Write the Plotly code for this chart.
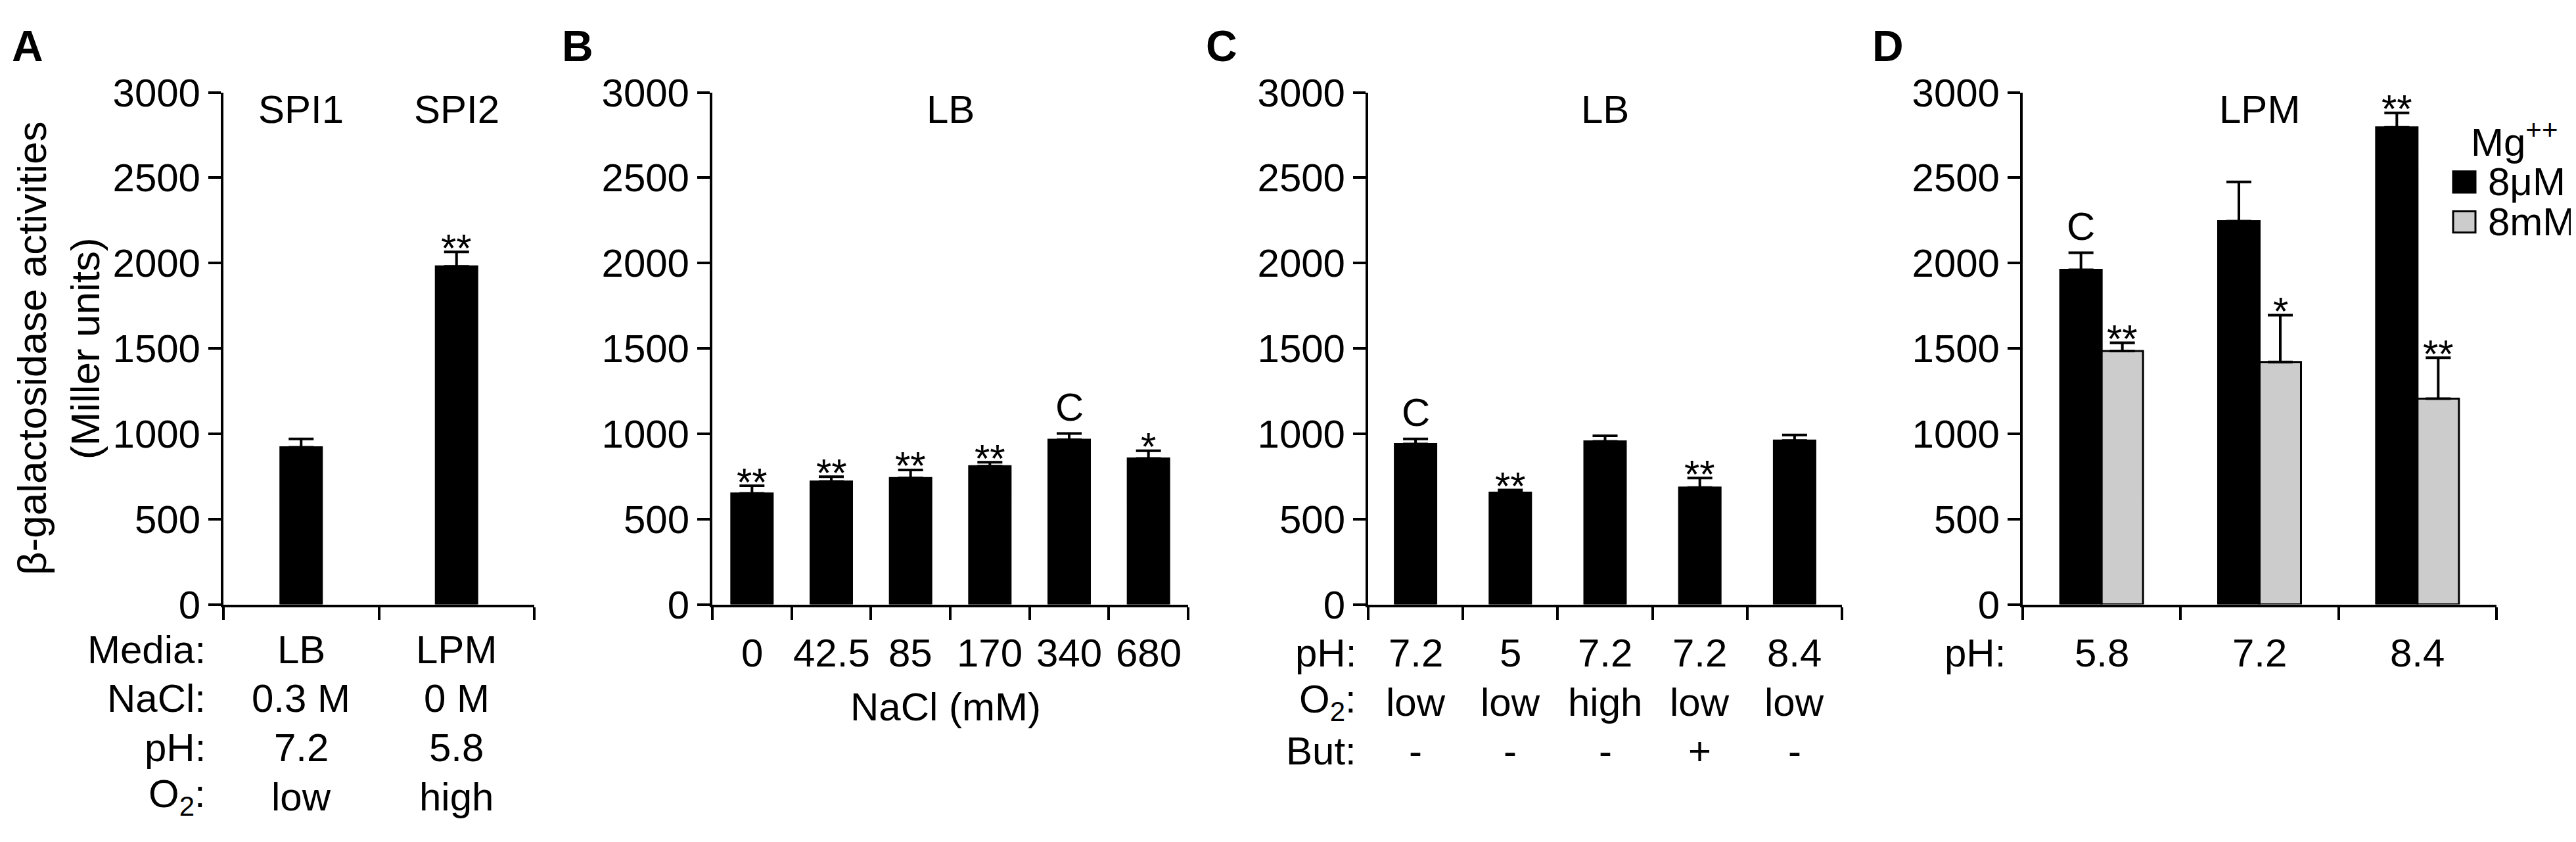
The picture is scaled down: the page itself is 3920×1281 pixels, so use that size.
import plotly.graph_objects as go

W, H = 3920, 1281
FONT = "Liberation Sans, Arial, sans-serif"
FS = 60

# ---------------- data ----------------
# Panel A
a_vals = [920, 1980]
a_err = [50, 85]
a_sig = ["", "**"]
a_top = ["SPI1", "SPI2"]
a_row_names = ["Media:", "NaCl:", "pH:", "O<sub>2</sub>:"]
a_media = ["LB", "LPM"]
a_nacl = ["0.3 M", "0 M"]
a_ph = ["7.2", "5.8"]
a_o2 = ["low", "high"]

# Panel B
b_labels = ["0", "42.5", "85", "170", "340", "680"]
b_vals = [650, 720, 740, 810, 965, 855]
b_err = [45, 28, 48, 23, 36, 45]
b_sig = ["**", "**", "**", "**", "C", "*"]
b_title = "NaCl (mM)"
b_top = "LB"

# Panel C
c_vals = [940, 655, 955, 685, 960]
c_err = [30, 15, 33, 55, 33]
c_sig = ["C", "**", "", "**", ""]
c_row_names = ["pH:", "O<sub>2</sub>:", "But:"]
c_ph = ["7.2", "5", "7.2", "7.2", "8.4"]
c_o2 = ["low", "low", "high", "low", "low"]
c_but = ["-", "-", "-", "+", "-"]
c_top = "LB"

# Panel D
d_ph = ["5.8", "7.2", "8.4"]
d_low_vals = [1960, 2245, 2795]
d_low_err = [100, 230, 85]
d_low_sig = ["C", "", "**"]
d_high_vals = [1485, 1420, 1205]
d_high_err = [48, 275, 240]
d_high_sig = ["**", "*", "**"]
d_series = ["8μM", "8mM"]
d_legend_title = "Mg<sup>++</sup>"
d_top = "LPM"

y_ticks = [0, 500, 1000, 1500, 2000, 2500, 3000]
y_title = ["β-galactosidase activities", "(Miller units)"]
panel_letters = ["A", "B", "C", "D"]

# ---------------- layout helpers ----------------
def fx(p):
    return p / W

def fy(p):
    return 1 - p / H

BLACK = "#000000"
GREY = "#cccccc"
y_dom = [fy(927), fy(105)]
x_doms = [(332, 805), (1076, 1800), (2074, 2795), (3070, 3791)]
ncat = [len(a_vals), len(b_vals), len(c_vals), len(d_ph)]
bar_px = 63

fig = go.Figure()

def err(arr):
    return dict(type="data", symmetric=False, array=arr, arrayminus=[0] * len(arr),
                color=BLACK, thickness=4, width=19)

def cat_w(k):
    return bar_px / ((x_doms[k][1] - x_doms[k][0]) / ncat[k])

# Panel A
fig.add_trace(go.Bar(x=list(range(len(a_vals))), y=a_vals, width=cat_w(0),
                     marker=dict(color=BLACK, line=dict(color=BLACK, width=3)),
                     error_y=err(a_err), xaxis="x", yaxis="y", showlegend=False))
# Panel B
fig.add_trace(go.Bar(x=list(range(len(b_vals))), y=b_vals, width=cat_w(1),
                     marker=dict(color=BLACK, line=dict(color=BLACK, width=3)),
                     error_y=err(b_err), xaxis="x2", yaxis="y2", showlegend=False))
# Panel C
fig.add_trace(go.Bar(x=list(range(len(c_vals))), y=c_vals, width=cat_w(2),
                     marker=dict(color=BLACK, line=dict(color=BLACK, width=3)),
                     error_y=err(c_err), xaxis="x3", yaxis="y3", showlegend=False))
# Panel D
wd = cat_w(3)
fig.add_trace(go.Bar(x=list(range(len(d_ph))), y=d_low_vals, width=wd, offset=-wd,
                     name=d_series[0],
                     marker=dict(color=BLACK, line=dict(color=BLACK, width=3)),
                     error_y=err(d_low_err), xaxis="x4", yaxis="y4", showlegend=False))
fig.add_trace(go.Bar(x=list(range(len(d_ph))), y=d_high_vals, width=wd, offset=0,
                     name=d_series[1],
                     marker=dict(color=GREY, line=dict(color=BLACK, width=3)),
                     error_y=err(d_high_err), xaxis="x4", yaxis="y4", showlegend=False))

layout = dict(
    width=W, height=H, margin=dict(l=0, r=0, t=0, b=0),
    paper_bgcolor="white", plot_bgcolor="white",
    barmode="overlay", showlegend=False,
    font=dict(family=FONT, size=FS, color=BLACK),
)
for k in range(4):
    sfx = "" if k == 0 else str(k + 1)
    n = ncat[k]
    layout["xaxis" + sfx] = dict(
        domain=[fx(x_doms[k][0]), fx(x_doms[k][1])], range=[-0.5, n - 0.5],
        anchor="y" + sfx, showline=True, linecolor=BLACK, linewidth=4,
        ticks="outside", ticklen=19, tickwidth=4, tickcolor=BLACK,
        tickvals=[i - 0.5 for i in range(n + 1)], showticklabels=False,
        showgrid=False, zeroline=False, fixedrange=True)
    layout["yaxis" + sfx] = dict(
        domain=y_dom, range=[0, 3000], anchor="x" + sfx,
        showline=True, linecolor=BLACK, linewidth=4,
        ticks="outside", ticklen=19, tickwidth=4, tickcolor=BLACK,
        tickvals=y_ticks, ticktext=[str(v) for v in y_ticks],
        tickfont=dict(family=FONT, size=FS, color=BLACK),
        showgrid=False, zeroline=False, fixedrange=True)
fig.update_layout(**layout)

ann = []

def txt(text, x, y, xref="paper", yref="paper", xanchor="center", yanchor="middle",
        size=FS, yshift=0, family=FONT, textangle=0):
    ann.append(dict(text=text, x=x, y=y, xref=xref, yref=yref, xanchor=xanchor,
                    yanchor=yanchor, showarrow=False, yshift=yshift, textangle=textangle,
                    font=dict(family=family, size=size, color=BLACK)))

def sig(label, x, top, xref, yref):
    if not label:
        return
    shift = 40 if label == "C" else 6
    txt(label, x, top, xref=xref, yref=yref, yshift=shift)

# panel letters
for letter, px in zip(panel_letters, [34, 871, 1851, 2865]):
    txt("<b>" + letter + "</b>", fx(px), fy(31), size=66)

# y title (panel A)
txt(y_title[0], fx(40), 0.5, yref="y domain", textangle=-90, size=62)
txt(y_title[1], fx(121), 0.5, yref="y domain", textangle=-90, size=62)

# Panel A texts
for i in range(len(a_vals)):
    sig(a_sig[i], i, a_vals[i] + a_err[i], "x", "y")
    txt(a_top[i], i, fy(132), xref="x")
rows_y = [1000, 1078, 1157, 1236]
for name, yy in zip(a_row_names, rows_y):
    txt(name, fx(307), fy(yy), xanchor="right")
for vals, yy in zip([a_media, a_nacl, a_ph, a_o2], rows_y):
    for i, v in enumerate(vals):
        txt(v, i, fy(yy), xref="x")

# Panel B texts
txt(b_top, 0.5, fy(132), xref="x2 domain")
for i in range(len(b_vals)):
    sig(b_sig[i], i, b_vals[i] + b_err[i], "x2", "y2")
    txt(b_labels[i], i, fy(1005), xref="x2")
txt(b_title, 0.49, fy(1092), xref="x2 domain")

# Panel C texts
txt(c_top, 0.5, fy(132), xref="x3 domain")
rows_c = [1005, 1084, 1162]
for i in range(len(c_vals)):
    sig(c_sig[i], i, c_vals[i] + c_err[i], "x3", "y3")
for name, yy in zip(c_row_names, rows_c):
    txt(name, fx(2058), fy(yy), xanchor="right")
for vals, yy in zip([c_ph, c_o2, c_but], rows_c):
    for i, v in enumerate(vals):
        txt(v, i, fy(yy), xref="x3")

# Panel D texts
txt(d_top, 0.5, fy(132), xref="x4 domain")
for i in range(len(d_ph)):
    sig(d_low_sig[i], i - wd / 2, d_low_vals[i] + d_low_err[i], "x4", "y4")
    sig(d_high_sig[i], i + wd / 2, d_high_vals[i] + d_high_err[i], "x4", "y4")
    txt(d_ph[i], i, fy(1005), xref="x4")
txt("pH:", fx(3046), fy(1005), xanchor="right")

# Legend (panel D)
txt(d_legend_title, fx(3750), fy(180), xanchor="left")
shapes = []
for (y0, y1), col, name in zip([(232, 266), (296, 330)], [BLACK, GREY], d_series):
    shapes.append(dict(type="rect", xref="paper", yref="paper",
                       x0=fx(3725), x1=fx(3759), y0=fy(y1), y1=fy(y0),
                       fillcolor=col, line=dict(color=BLACK, width=3)))
    txt(name, fx(3776), fy((y0 + y1) / 2), xanchor="left")

fig.update_layout(annotations=ann, shapes=shapes)
fig.write_html("out.html")
